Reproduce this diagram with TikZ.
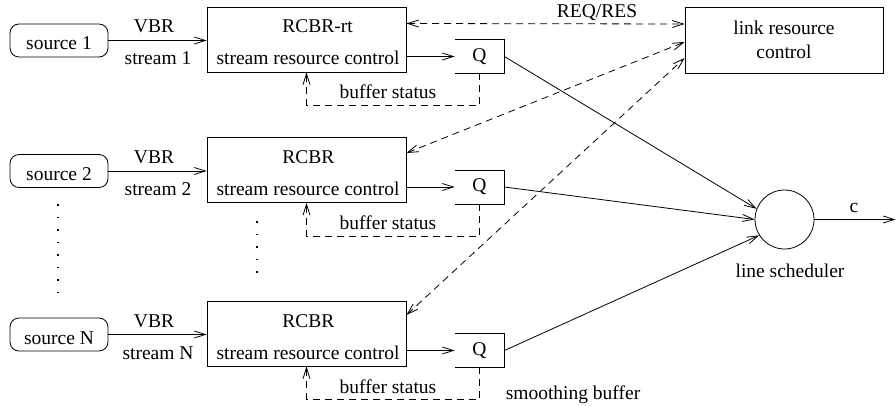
\documentclass[tikz,border=0pt]{standalone}
\usepackage{fontspec}
\setmainfont{Liberation Serif}
\usetikzlibrary{arrows.meta,calc}
\begin{document}
\begin{tikzpicture}[x=1pt,y=-1pt, line width=0.8pt,
  font=\fontsize{19.5}{24}\selectfont,
  box/.style={draw, minimum width=199pt, minimum height=65pt, inner sep=0pt},
  src/.style={draw, rounded corners=9pt, minimum width=98pt, minimum height=33pt,
              inner sep=0pt, text height=19pt, text depth=0pt},
  qbox/.style={minimum width=49pt, minimum height=33pt, inner sep=0pt},
  txt/.style={inner sep=0pt, anchor=base},
  tip/.tip={Straight Barb[length=11pt,width=7pt]},
  arr/.style={-tip},
  arrs/.style={tip-tip},
  dsh/.style={dash pattern=on 7pt off 5pt},
]
\useasboundingbox (0,0) rectangle (896,406);

% one row per stream: source, RCBR controller, smoothing buffer Q
\foreach \i/\o/\n/\t in {1/0/1/RCBR-rt, 2/130.5/2/RCBR, 3/294/N/RCBR}{
  \node[src]  (src\i) at (59,40.5+\o) {source \n};
  \node[box]  (r\i)   at (306.5,39.5+\o) {};
  \node[qbox] (q\i)   at (479.5,56.5+\o) {Q};
  \draw (q\i.north west) -- (q\i.north east) -- (q\i.south east) -- (q\i.south west);
  \node[txt] (vbr\i) at (154,33+\o) {VBR};
  \node[txt] (str\i) at (158,65+\o) {stream \n};
  \node[txt, anchor=base west] (name\i) at (282,33+\o) {\t};
  \node[txt] (ctl\i) at (308,65+\o) {stream resource control};
  \node[txt] (bst\i) at (388,99+\o) {buffer status};
  \draw[arr] (src\i.east) -- (src\i.east -| r\i.west);
  \draw[arr] (q\i.west -| r\i.east) -- (q\i.west);
  \draw[dsh, arr] (q\i.south) -- ++(0,32) -| (r\i.south);
}

% link resource control and its REQ/RES signalling
\node[draw, minimum width=198pt, minimum height=66pt, align=center] (lk) at (784,40)
  {link resource\\control};
\node[txt] (req) at (597,18) {REQ/RES};
\draw[dsh, arrs] ([yshift=16pt]r1.east) -- ([yshift=16pt]lk.west);
\draw[dsh, arrs] ([yshift=17pt]r2.east) -- ([yshift=-2pt]lk.west);
\draw[dsh, arrs] ([yshift=18.5pt]r3.east) -- ([yshift=-18pt]lk.west);

% line scheduler
\node[draw, circle, minimum size=59pt, inner sep=0pt] (ls) at (784.5,219.5) {};
\node[txt] (lsl) at (790,277) {line scheduler};
\coordinate (out) at (895.5,219.5);
\draw[arr] (ls.east) -- (out);
\node[txt] (cap) at (854,212) {c};
\draw[arr] (q1.east) -- (ls.159);
\draw[arr] (q2.east) -- (ls.180);
\draw[arr] (q3.east) -- (ls.212);

\node[txt] (smb) at (573,399) {smoothing buffer};

% vertical ellipsis between stream 2 and stream N
\foreach \k in {0,...,7} \fill (57,204+12.5*\k) rectangle ++(2,1.5);
\foreach \k in {0,...,4} \fill (256,221+12.5*\k) rectangle ++(2,1.5);
\end{tikzpicture}
\end{document}
